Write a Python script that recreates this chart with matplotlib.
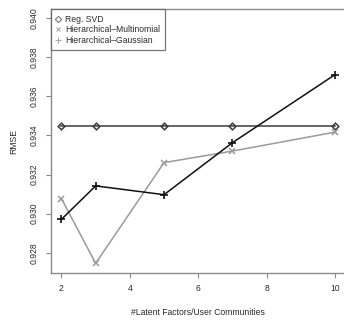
import matplotlib
matplotlib.use("Agg")
import matplotlib.pyplot as plt
from matplotlib.lines import Line2D

plt.rcParams['font.family'] = ['Liberation Sans', 'DejaVu Sans']

factors = [2, 3, 5, 7, 10]
reg_svd = [0.93449, 0.93449, 0.93449, 0.93449, 0.93449]
hier_multinomial = [0.93077, 0.92746, 0.93261, 0.93320, 0.93417]
hier_gaussian = [0.92971, 0.93142, 0.93097, 0.93363, 0.93711]
xticks = [2, 4, 6, 8, 10]
yticks = [0.928, 0.930, 0.932, 0.934, 0.936, 0.938, 0.940]
labels = ["Reg. SVD", "Hierarchical\u2013Multinomial", "Hierarchical\u2013Gaussian"]

W, H = 344, 321
fig = plt.figure(figsize=(W / 100, H / 100), dpi=100)
left, right, top, bottom = 50.5, 346, 9.3, 273.3
ax = fig.add_axes([left / W, (H - bottom) / H, (right - left) / W, (bottom - top) / H])

axis_col = '#8c8c8c'
text_col = '#2a2a2a'
fs = 6.2

ax.plot(factors, reg_svd, color='#3c3c3c', lw=1.1, marker='D', markersize=3.4,
        markerfacecolor='none', markeredgecolor='#3c3c3c', markeredgewidth=1.1)
ax.plot(factors, hier_multinomial, color='#9a9a9a', lw=1.1, marker='x', markersize=4.5,
        markeredgewidth=1.1)
ax.plot(factors, hier_gaussian, color='#111111', lw=1.1, marker='+', markersize=6,
        markeredgewidth=1.2)

ax.set_xlim(1.68, 10.32)
ax.set_ylim(0.92695, 0.94045)
ax.set_xticks(xticks)
ax.set_xticklabels([str(v) for v in xticks])
ax.set_yticks(yticks)
ax.set_yticklabels([f"{v:.3f}" for v in yticks], rotation=90, va='center')

for s in ax.spines.values():
    s.set_color(axis_col)
    s.set_linewidth(1.0)
ax.tick_params(axis='both', colors=axis_col, labelcolor=text_col, labelsize=fs,
               length=3.6, width=0.8, direction='out')
ax.tick_params(axis='x', pad=4.2)
ax.tick_params(axis='y', pad=4.6)

ax.set_xlabel("#Latent Factors/User Communities", fontsize=fs, color=text_col, labelpad=10.5)
ax.set_ylabel("RMSE", fontsize=fs, color=text_col, labelpad=8.5)

handles = [
    Line2D([], [], ls='none', marker='D', markersize=3.2, markerfacecolor='none',
           markeredgecolor='#7a7a7a', markeredgewidth=0.8),
    Line2D([], [], ls='none', marker='x', markersize=3.5, color='#a8a8a8', markeredgewidth=0.8),
    Line2D([], [], ls='none', marker='+', markersize=4.5, color='#a8a8a8', markeredgewidth=0.8),
]
leg = ax.legend(handles, labels, loc='upper left', bbox_to_anchor=(0, 1),
                fontsize=fs, frameon=True, fancybox=False, borderaxespad=0,
                handlelength=0.6, handletextpad=0.45, borderpad=0.62,
                labelspacing=0.2, labelcolor=text_col)
leg.get_frame().set_edgecolor('#555555')
leg.get_frame().set_linewidth(0.9)

fig.savefig("out.png", dpi=100)
